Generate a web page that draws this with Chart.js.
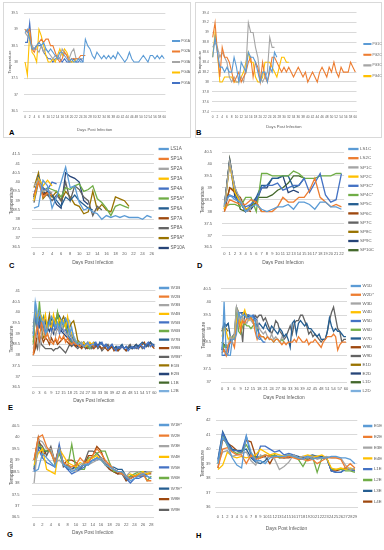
<!DOCTYPE html>
<html>
<head>
<meta charset="utf-8">
<script src="https://cdn.jsdelivr.net/npm/chart.js@4.4.0/dist/chart.umd.min.js"></script>
<style>
body{margin:0;background:#fff;width:384px;height:550px;position:relative;overflow:hidden}
.frame{position:absolute;border:1px solid #d9d9d9;box-sizing:border-box}
.lab{position:absolute;font:bold 7.5px "Liberation Sans",Arial,sans-serif;color:#000;line-height:9px}
</style>
</head>
<body>
<div class="frame" style="left:3px;top:2px;width:188px;height:136px"></div>
<div class="frame" style="left:195px;top:2px;width:187px;height:136px"></div>
<div class="lab" style="left:9px;top:128px">A</div>
<div class="lab" style="left:196px;top:128px">B</div>
<div class="lab" style="left:9px;top:261px">C</div>
<div class="lab" style="left:197px;top:261px">D</div>
<div class="lab" style="left:8px;top:403px">E</div>
<div class="lab" style="left:196px;top:404px">F</div>
<div class="lab" style="left:7px;top:530px">G</div>
<div class="lab" style="left:196px;top:531px">H</div>
<script>
// ---- categories (days post infection) ----
const days60 = [0,1,2,3,4,5,6,7,8,9,10,11,12,13,14,15,16,17,18,19,20,21,22,23,24,25,26,27,28,29,30,31,32,33,34,35,36,37,38,39,40,41,42,43,44,45,46,47,48,49,50,51,52,53,54,55,56,57,58,59,60];
const days26 = [0,1,2,3,4,5,6,7,8,9,10,11,12,13,14,15,16,17,18,19,20,21,22,23,24,25,26];
const days22 = [0,1,2,3,4,5,6,7,8,9,10,11,12,13,14,15,16,17,18,19,20,21,22];
const days28 = [0,1,2,3,4,5,6,7,8,9,10,11,12,13,14,15,16,17,18,19,20,21,22,23,24,25,26,27,28];
const days29 = [0,1,2,3,4,5,6,7,8,9,10,11,12,13,14,15,16,17,18,19,20,21,22,23,24,25,26,27,28,29];

// ---- A ----
const namesA = ["PG1A","PG2A","PG3A","PG4A","PG5A"];
const PG1A = [38.9,39.0,38.7,38.4,38.4,38.5,38.6,38.5,38.6,38.4,38.3,38.4,38.3,38.2,38.1,38.3,38.3,38.2,38.1,38.0,38.1,38.0,38.0,38.1,38.0,38.0,38.7,38.5,38.4,38.2,38.1,38.3,38.2,38.1,38.2,38.1,38.2,38.1,38.2,38.1,38.3,38.2,38.1,38.0,38.1,38.3,38.1,38.0,38.0,38.0,38.1,38.2,38.1,38.0,38.2,38.2,38.1,38.2,38.1,38.2,38.1];
const PG2A = [39.0,38.9,39.0,38.4,38.3,38.5,38.6,38.7,38.6,38.7,38.7,38.5,38.5,38.3,38.1,38.0,38.1,38.3,38.2,38.0,38.1,38.1,38.1,38.1,38.2,38.2,38.2];
const PG3A = [38.9,38.8,38.7,38.5,38.4,38.4,38.3,38.5,38.3,38.4,38.3,38.2,38.1,38.2,38.2,38.1,38.4,38.3,38.2,38.1,38.3,38.4,38.1,38.1,38.1,38.1];
const PG4A = [38.0,37.6,38.9,38.3,38.2,38.0,39.0,38.8,38.5,38.2,38.0,38.0,38.1,38.0,38.2,38.4,38.2,38.4,38.3,38.1,38.0,38.0,38.1];
const PG5A = [38.6,38.6,39.2,38.4,38.4,38.5,38.5,38.5,38.3,38.2,38.1,38.1,38.0,38.1,38.1,38.1,38.0,38.1,38.0,38.0,38.0,38.1,38.0,38.0,38.1,38.0];

// ---- B ----
const namesB = ["PG1C","PG2C","PG3C","PG4C"];
const PG1C = [38.5,38.9,38.6,38.3,38.3,38.2,38.3,38.2,38.2,38.5,38.3,38.0,38.4,38.3,38.2,38.6,38.5,38.5,38.4,38.2,38.0,38.2,38.2,38.0,38.3,38.2,38.6,38.5];
const PG2C = [38.9,39.2,38.6,38.1,38.7,38.5,38.5,38.4,38.2,38.0,38.1,38.2,38.0,38.1,38.2,38.4,38.5,38.1,38.4,38.3,38.0,38.4,38.1,38.0,38.2,38.5,38.5,38.4,38.3,38.2,38.3,38.2,38.3,38.2,38.1,38.2,38.3,38.2,38.1,38.2,38.0,38.1,38.2,38.1,38.0,38.2,38.3,38.2,38.1,38.3,38.2,38.4,38.2,38.1,38.3,38.2,38.2,38.2,38.4,38.3,38.2];
const PG3C = [38.7,38.8,38.7,38.5,38.6,38.5,38.4,38.1,38.0,38.1,38.0,38.0,38.1,38.0,38.3,39.2,39.0,39.0,38.7,38.5,38.1,38.0,38.1,38.2,38.9,38.7,38.7];
const PG4C = [38.5,39.0,38.6,38.0,38.0,38.1,38.1,38.1,38.1,38.0,38.0,38.0,38.1,38.2,38.4,38.6,38.4,38.4,38.1,38.0,38.0,38.1,38.4,38.4,38.4,38.3,38.2,38.1,38.3,38.5,38.5,38.4,38.4];

// ---- C ----
const namesC = ["LS1A","SP1A","SP2A","SP3A","SP4A","SP5A*","SP6A","SP7A","SP8A","SP9A*","SP10A"];
const LS1A = [38.6,38.7,40.1,39.8,38.6,39.2,40.0,40.8,39.7,39.8,38.9,38.5,38.6,38.4,38.3,38.0,38.2,38.1,38.2,38.1,38.2,38.1,38.1,38.1,38.0,38.2,38.1];
const SP1A = [39.3,40.0,39.2,39.4,39.3];
const SP2A = [39.8,40.1,39.5,39.6,39.4];
const SP3A = [39.0,40.2,39.8,40.1,39.8];
const SP4A = [39.3,40.2,39.6,39.6,40.0,39.9];
const SP5A = [39.3,40.0,39.5,39.7,39.6,39.5,39.2,39.7,39.6,39.8,39.9,39.5,39.6,39.8,39.1,38.9,38.6,38.2,38.7,38.8,38.7,38.6];
const SP6A = [39.1,40.3,39.7,39.5,39.3,39.0,38.7,39.2,39.0,39.3,39.0,38.8,38.6,38.5];
const SP7A = [39.2,40.2,39.3,39.5,39.4];
const SP8A = [38.9,40.0,39.4,39.3,39.0,39.3,39.0,40.0,39.0,39.8,39.6,39.2,39.0,38.2,38.7,38.5];
const SP9A = [39.7,40.5,39.1,39.4,39.2,39.5,39.0,39.5,39.2,38.8,38.7,38.3,38.4,39.5,38.5,38.8,38.5,38.4,39.2,39.1,39.0,38.7];
const SP10A = [39.2,40.2,39.5,39.3,39.3,38.8,38.6,40.5,40.3,40.2,40.0,39.0,38.8];

// ---- D ----
const namesD = ["LS1C","LS2C","SP1C","SP2C","SP3C*","SP4C*","SP5C","SP6C","SP7C","SP8C","SP9C","SP10C"];
const LS1C = [38.3,38.7,38.5,38.4,38.0,38.2,38.3,38.1,38.0,38.1,38.2,38.2,38.3,38.1,38.4,38.4,38.3,38.1,38.4,38.4,38.2,38.2,38.1];
const LS2C = [38.0,38.5,38.4,38.3,38.3,38.5,38.4,38.0,38.0,38.0,38.2,38.6,38.4,38.4,38.6,38.6,38.9,39.4,38.6,38.4,38.2,38.3,38.2];
const SP1C = [38.2,40.1,39.0,38.5,38.0,38.1];
const SP2C = [38.1,40.0,38.8,38.4,38.1,38.2];
const SP3C = [38.5,38.7,38.6,38.4,38.2,38.3,38.5,39.0,39.1,39.1,39.2,38.9,39.0,39.1,39.1,39.4,38.8,39.2,39.6,38.7,38.4,38.5,39.6];
const SP4C = [38.2,38.3,38.3,38.2,38.6,38.6,38.0,39.6,39.6,39.5,39.5,39.5,39.5,39.7,39.6,39.4,39.4,39.4,39.5,39.5,39.5,39.6,39.6];
const SP5C = [38.3,40.1,39.0,38.4,38.0,38.3,38.6,39.1,39.1,39.4,39.4,39.5,39.5,39.0,39.1,39.4];
const SP6C = [38.0,39.0,38.8,38.6,38.1,38.0];
const SP7C = [38.2,40.2,38.9,38.4,38.0,38.1];
const SP8C = [38.1,39.0,38.9,38.5,38.1,38.2,38.4,38.0];
const SP9C = [38.1,40.1,38.6,38.4,38.0,38.1,38.4,39.0,39.0,39.4,39.4,39.5,38.8,38.9,38.8];
const SP10C = [38.2,40.2,38.8,38.1,38.0,38.2,38.6,38.6,38.6,38.7,38.9,39.0,39.2,39.5,39.5,39.4];

// ---- E ----
const namesE = ["W1B","W2B","W3B","W4B","W5B","W6B","W7B","W8B","W9B*","E1B","E2B","L1B","L2B"];
const W1B = [38.9,40.5,39.5,40.0,39.6,39.5,39.0,39.2,39.5,39.8,39.6,39.3,39.5,39.2,39.6,39.4,39.7,39.5,39.0,39.3,38.8,38.6,38.5,38.6,38.5,38.4,38.5,38.6,38.4,38.5,38.5];
const W2B = [38.0,38.9,39.4,38.8,39.5,39.2,38.8,39.0,38.7,38.6,38.5,38.8,38.6,38.9,38.7,38.9,38.6,38.8,38.6,38.5,38.6,38.5,38.5,38.4,38.5,38.4,38.5,38.6,38.4,38.5,38.4];
const W3B = [38.3,38.8,38.9,38.3,38.9,39.6,39.3,39.0,38.7,39.0,39.2,38.9,39.3,39.1,39.4,39.2,39.0,38.9,39.2,38.8,38.6,38.5,38.5,38.4,38.6,38.4,38.5,38.5,38.4,38.5,38.5];
const W4B = [39.0,40.1,39.8,40.0,39.8,39.5,39.9,39.2,39.4,39.3,39.9,39.5,39.4,39.7,39.5,39.6,39.3,39.8,39.2,39.0,38.8,38.6,38.5,38.6,38.5,38.6,38.4,38.5,38.6,38.5,38.6];
const W5B = [39.2,39.8,39.0,39.6,39.3,39.7,39.1,39.4,39.6,39.1,39.5,39.2,39.4,39.0,39.3,39.1,39.2,38.9,38.8,38.7,38.5,38.6,38.5,38.4,38.5,38.6,38.4,38.5,38.4,38.5,38.4,38.6,38.4,38.5,38.6,38.4,38.5,38.3,38.4,38.5,38.3,38.2,38.4,38.3,38.4,38.3,38.4,38.2,38.3,38.4,38.3,38.4,38.3,38.5,38.4,38.3,38.5,38.6,38.4,38.5,38.4];
const W6B = [38.5,39.9,39.2,40.5,39.5,39.8,39.0,39.5,39.6,39.3,39.4,39.3,40.0,39.4,39.6,39.3,39.5,39.0,38.8,38.6,38.6,38.5,38.6,38.4,38.5,38.4,38.5,38.4,38.3,38.5,38.4];
const W7B = [39.0,39.8,39.5,39.3,39.7,39.4,39.6,39.2,39.5,39.4,39.6,39.5,39.3,39.8,39.6,39.5,39.7,39.4,39.0,38.8,38.7,38.6,38.5,38.4,38.5,38.6,38.5,38.4,38.3,38.5,38.6,38.5,38.4,38.6,38.5,38.4,38.5,38.3,38.4,38.5,38.3,38.4,38.3,38.4,38.5,38.3,38.4,38.3,38.4,38.3,38.4,38.5,38.4,38.5,38.6,38.5,38.4,38.5,38.6,38.5,38.5];
const W8B = [38.0,38.3,39.0,38.6,38.9,38.6,38.8,38.7,38.5,38.8,38.6,38.7,38.5,38.6,38.7,38.8,38.7,38.6,38.5,38.6,38.5,38.4,38.5,38.4,38.3,38.5,38.4,38.3,38.4,38.5,38.3,38.4,38.5,38.4,38.3,38.4,38.3,38.2,38.3,38.4,38.2,38.3,38.2,38.3,38.4,38.3,38.2,38.3,38.4,38.3,38.4,38.5,38.3,38.4,38.5,38.6,38.4,38.5,38.6,38.4,38.3];
const W9B = [38.1,38.6,38.3,38.9,38.5,38.4,38.3,38.3,38.3,38.3,38.2,38.3,38.3,38.4,38.3,38.2,38.1,38.3,38.5,38.4,38.5,38.4,38.3,38.4,38.5,38.4,38.3,38.4,38.5,38.3,38.4,38.5,38.3,38.4,38.2,38.3,38.4,38.5,38.3,38.4,38.3,38.4,38.2,38.3,38.4,38.3,38.2,38.4,38.5,38.3,38.4,38.3,38.4,38.5,38.3,38.4,38.5,38.4,38.6,38.5,38.4];
const E1B = [38.6,39.9,39.6,39.9,39.3,38.8,38.9,39.4,39.9,39.3,39.6,39.5,40.0,39.7,39.6,39.8,39.5,39.0,39.3,39.5,39.6,39.2,38.7,38.6,38.5,38.4,38.5,38.5,38.4,38.5,38.5];
const E2B = [39.3,40.0,39.4,39.6,39.2,39.5,39.0,39.3,39.1,39.4,39.0,39.3,39.2,39.4,39.1,39.0,38.9,38.8,38.7,38.6,38.5,38.5,38.4,38.5,38.4,38.5,38.3,38.4,38.5,38.4,38.5];
const L1B = [38.8,39.8,39.6,39.8,39.5,39.3,39.6,39.2,39.5,39.7,39.4,39.6,39.8,39.5,39.6,39.4,39.6,39.3,39.1,38.9,38.7,38.6,38.5,38.5,38.4,38.6,38.4,38.5,38.4,38.5,38.4];
const L2B = [39.0,40.5,40.0,39.6,39.8,39.3,39.5,39.1,39.6,39.2,39.4,39.7,39.5,39.3,39.6,39.5,39.3,39.7,39.6,39.2,38.9,38.7,38.6,38.5,38.6,38.5,38.4,38.5,38.5,38.4,38.5];

// ---- F ----
const namesF = ["W1D","W2D*","W3D","W4D","W5D","W6D","W7D","W8D","W9D","E1D","E2D","L1D","L2D"];
const W1D = [38.0,40.0,38.1,38.0,38.0,38.6,38.6,38.8,39.6,39.4,39.5,39.5,39.4,39.4,39.5,39.4,39.3,38.7,38.6,38.6,38.5];
const W2D = [38.1,38.2,38.0,38.4,38.5,38.5,38.3,39.0,39.3,38.9,39.3,39.2,39.4,39.4,39.4,39.3,38.9,38.6,38.8,38.7,38.7,38.6,38.7,38.6,38.6,38.5,38.6,38.6,38.5,38.4,38.5,38.4,38.5,38.5,38.5,38.6,38.5,38.7,38.6,38.5,38.5,38.6,38.4,38.5,38.5,38.6,38.5,38.4,38.3,38.5,38.6,38.7,38.7,38.7,38.8,38.7,38.2,38.4,38.5,38.5,38.5];
const W3D = [38.1,38.2,38.0,38.4,38.7,38.6,38.8,39.8,39.5,39.3,39.4,39.3,39.2,39.4,39.3,39.2,39.1,39.3,39.0,38.9,38.8,38.9,38.7,38.6,38.8,38.6,38.7,38.6,38.5,38.7,38.6];
const W4D = [38.7,39.0,38.9,38.6,38.7,38.6,38.7,39.3,39.6,39.0,39.5,39.7,39.4,39.3,39.4,39.2,39.1,39.0];
const W5D = [38.0,38.0,38.0,38.1,38.6,38.6,38.7,39.1,39.6,39.6,39.5,39.6,39.5,39.5,39.4,39.5,39.4,39.3,38.7,38.6,38.5,38.5];
const W6D = [38.5,38.3,38.4,38.3,38.6,38.7,38.6,39.8,38.9,38.8,39.1,39.2,39.1,39.1,39.0,39.1,39.2,39.0,38.8,38.7,38.7,38.6,38.7,38.6,38.6,38.5,38.6,38.6,38.5,38.6,38.5];
const W7D = [38.2,39.2,39.1,39.2,38.7,38.6,38.7,39.3,39.6,39.6,39.6,39.5,39.4,39.5,39.4,39.5,39.3,39.1,39.2,39.1,39.0,39.2,39.0,38.9,39.1,39.0,38.9,38.8,39.0,38.9,38.7,38.8,38.6,38.3,39.2,39.3,38.8,39.2,39.3,39.2,39.1,39.2,39.0,39.0,38.9,38.8,38.7,38.8,38.6,38.6,38.6,38.9,39.4,39.1,38.9,39.0,38.9,38.9,38.8,38.7,38.7];
const W8D = [38.3,38.2,38.1,38.0];
const W9D = [38.2,38.4,38.3,38.3,38.5,38.7,38.8,39.8,39.6,39.2,38.5,39.6,39.5,39.5,39.4,39.3,39.5,39.4,39.5,39.5,39.3,39.4,39.2,39.0,38.8,39.0,39.3,39.2,38.9,38.8,38.6,38.7,38.9,39.1,38.8,39.2,39.3,39.3,39.5,39.5,39.3,39.1,38.8,38.9,38.7,38.8,38.7,38.6,38.5,38.6,38.6,38.9,39.3,39.6,39.8,39.4,39.0,38.9,38.5,38.6,38.6];
const E1D = [38.9,39.1,39.0,38.9];
const E2D = [38.9,39.2,39.1,39.2];
const L1D = [38.5,38.4,38.3,38.3];
const L2D = [38.0,38.0,38.1,38.0];

// ---- G ----
const namesG = ["W1E*","W2E","W3E","W4E","W5E","W6E","W7E*","W8E","W9E"];
const W1E = [38.5,38.6,39.3,39.1,38.9,38.7,39.5,38.8,38.7,38.5,38.6,38.7,38.8,38.8,39.0,39.1,39.0,38.8,38.7,38.6,38.5,38.5,38.3,38.1,38.2,38.3,38.4,38.3,38.2];
const W2E = [39.0,40.0,40.1,39.6,39.3,38.9,39.5,38.9,38.8,38.7,38.8,39.1,38.9,38.9,39.2,39.5,39.3,39.0,38.8,38.6,38.5,38.4,38.3,38.2,38.3,38.3,38.4,38.1,38.1];
const W3E = [38.0,39.9,39.8,39.5,39.5,38.9,39.0,38.8,38.7,38.6,38.5,38.8,38.9,38.8,38.9,39.0,39.1,38.9,38.8,38.6,38.5,38.4,38.3,38.5,38.5,38.5,38.4,38.5,38.5];
const W4E = [38.8,39.3,39.5,38.6,38.5,38.4,39.5,39.2,38.9,38.8,38.7,38.9,38.8,39.0,39.1,39.2,39.0,38.8,38.7,38.6,38.5,38.5,38.3,38.4,38.3,38.4,38.5,38.4,38.5];
const W5E = [38.5,39.5,39.1,38.9,38.8,38.7,39.7,38.8,38.6,38.4,38.5,38.6,38.7,38.9,39.0,39.0,39.1,38.9,38.7,38.6,38.5,38.4,38.2,38.0,38.2,38.2,38.3,38.3,38.2];
const W6E = [38.7,39.7,39.5,39.4,39.4,38.8,39.3,38.8,38.7,39.7,38.6,38.6,38.6,39.1,39.1,39.3,39.4,39.4,38.9,38.5,38.5,38.4,38.2,38.3,38.4,38.5,38.5,38.1,38.3];
const W7E = [38.6,39.6,39.4,39.4,39.4,38.9,39.3,38.9,38.6,38.6,38.8,38.7,38.8,38.8,39.0,39.1,39.1,38.8,38.7,38.7,38.6,38.6,38.3,38.2,38.3,38.4,38.5,38.5,38.5];
const W8E = [39.0,40.0,39.2,39.4,39.5,38.9,39.6,38.8,39.0,39.0,38.9,38.7,38.8,39.2,39.2,39.6,39.4,38.9,38.6,38.5,38.4,38.4,38.1,38.2,38.3,38.3,38.3,38.4,38.4];
const W9E = [38.6,39.8,39.6,39.2,39.6,38.9,39.5,38.7,38.8,38.6,38.7,38.6,38.9,39.4,39.4,39.3,39.1,38.8,38.6,38.5,38.4,38.5,38.1,38.3,38.3,38.4,38.4,38.5,38.5];

// ---- H ----
const namesH = ["E1E","E2E","E3E","E4E","L1E","L2E","L3E","L4E"];
const E1E = [39.0,40.8,40.3,39.4,38.9,38.7,40.9,39.8,39.2,39.2,39.0,39.4,39.5,39.5,39.5,39.6,39.5,39.4,39.3,39.5,39.3,39.4,39.4,39.4,39.5,39.5,39.4,39.4,39.3,39.0];
const E2E = [38.7,40.0,40.1,39.8,39.6,39.6,39.0,39.6,39.3,39.4,39.6,39.5,39.4,39.5,39.4,39.5,39.4,39.3,39.3,39.2,39.3,39.0,39.2,39.4,39.4,39.4,39.3,38.7,39.0,38.7];
const E3E = [39.0,39.8,39.9,39.5,39.6,39.7,39.8,39.2,38.9,39.6,39.4,39.5,39.3,38.6,38.8,39.1,39.6,39.4,39.5,39.4,39.5,39.3,39.4,39.5,39.4,39.4,39.4,38.9,38.6,38.7];
const E4E = [38.6,38.9,39.8,39.5,39.4,39.5,39.4,39.5,39.6,40.0,39.8,39.6,39.7,39.6,39.5,39.6,39.5,39.4,39.5,39.6,39.5,39.5,39.6,39.4,38.7,38.6,38.7,38.6,38.7,38.6];
const L1E = [39.2,41.1,40.4,39.9,39.9,39.8,40.9,39.5,39.2,40.2,40.2,40.0,39.8,39.9,39.6,39.7,39.6,39.4,39.5,39.4,39.5,39.5,39.4,39.4,38.5,38.4,38.4,38.6,38.6,38.5];
const L2E = [39.0,41.0,40.2,39.9,39.7,39.8,40.3,39.7,39.4,39.5,39.6,39.5,39.6,39.4,39.5,39.6,39.5,39.3,38.8,39.4,39.5,38.4,39.4,39.4,38.6,38.6,38.6,38.5,38.5,38.4];
const L3E = [39.3,41.2,40.5,40.0,39.9,39.9,40.0,39.4,39.1,39.0,39.2,39.6,39.5,39.5,39.4,39.5,39.6,39.5,39.4,39.5,39.6,39.5,39.5,39.4,38.5,38.4,38.4,38.7,38.6,38.6];
const L4E = [38.7,40.7,40.4,40.2,39.9,39.7,40.6,40.5,39.5,39.4,39.5,39.0,39.6,39.4,39.4,39.4,39.5,39.4,39.4,39.3,39.4,39.4,39.4,39.4,38.5,38.5,38.6,38.7,38.6,38.5];

// Office colour order used by the source workbook
const pal = ["#5B9BD5","#ED7D31","#A5A5A5","#FFC000","#4472C4","#70AD47","#255E91","#9E480E","#636363","#997300","#264478","#43682B","#7CAFDD"];
const fam = '"Liberation Sans", Arial, sans-serif';
const txt = "#595959";

function panel(c) {
  const h = Math.ceil(c.xTitleY + c.ft * 0.6 - c.y);
  const cv = document.createElement("canvas");
  cv.width = c.w; cv.height = h;
  cv.style.cssText = "position:absolute;left:" + c.x + "px;top:" + c.y + "px";
  document.body.appendChild(cv);

  const pad = c.sp - c.fl;
  const legTitle = c.first - c.y - pad - c.fl / 2;

  new Chart(cv, {
    type: "line",
    data: {
      labels: c.labels,
      datasets: c.names.map((n, i) => ({
        label: n, data: c.series[i],
        borderColor: pal[i], backgroundColor: pal[i],
        borderWidth: c.lw, pointRadius: 0, pointHoverRadius: 0,
        tension: 0, fill: false
      }))
    },
    options: {
      responsive: false, animation: false, events: [],
      layout: { padding: 0 },
      plugins: {
        tooltip: { enabled: false },
        legend: {
          position: "right", align: "start", maxWidth: c.x + c.w - c.R,
          title: { display: legTitle > 0.3, text: " ", color: "rgba(0,0,0,0)", padding: 0,
                   font: { size: Math.max(legTitle, 0.4) / 1.2, lineHeight: 1.2 } },
          labels: { boxWidth: c.bw, boxHeight: 1, padding: pad, color: txt,
                    font: { family: fam, size: c.fl } }
        }
      },
      scales: {
        x: {
          type: "category", offset: true,
          grid: { display: false, drawTicks: false },
          border: { display: true, color: "#D9D9D9", width: 1 },
          ticks: {
            autoSkip: false, maxRotation: 0, minRotation: 0, padding: c.xTickPad,
            color: txt, font: { family: fam, size: c.fs },
            callback: (v, i) => (i % c.every === 0 ? c.labels[i] : "")
          },
          title: { display: true, text: "Days Post Infection", color: txt,
                   font: { family: fam, size: c.ft },
                   padding: { top: 0, bottom: c.y + h - c.xTitleY - c.ft * 0.6 } },
          afterFit: s => { s.height = c.y + h - c.B; }
        },
        x2: {
          type: "category", position: "top", display: true,
          grid: { display: false, drawTicks: false }, border: { display: false },
          ticks: { display: false },
          afterFit: s => { s.height = c.T - c.y; }
        },
        y: {
          min: c.yMin, max: c.yMax,
          grid: { color: "#D9D9D9", drawTicks: false },
          border: { display: false },
          ticks: {
            stepSize: c.step, padding: c.L - c.yLab, color: txt, autoSkip: false,
            font: { family: fam, size: c.fs },
            callback: v => String(Math.round(v * 10) / 10)
          },
          title: { display: true, text: "Temperature", color: txt,
                   font: { family: fam, size: c.ft },
                   padding: { top: c.yTitleX - c.x - c.ft * 0.6, bottom: 0 } },
          afterFit: s => { s.width = c.L - c.x; }
        }
      }
    }
  });
}

panel({ labels: days60, names: namesA, series: [PG1A, PG2A, PG3A, PG4A, PG5A],
  x: 4, y: 4, w: 196, L: 23.9, T: 13, R: 163.8, B: 111, xTitleY: 130, yTitleX: 10, yLab: 17.7,
  xTickPad: 4.5, first: 41, sp: 10.5, fs: 3.2, ft: 4.1, fl: 3.3, bw: 7, lw: 1.1,
  yMin: 36.5, yMax: 39.5, step: 0.5, every: 2 });

panel({ labels: days60, names: namesB, series: [PG1C, PG2C, PG3C, PG4C],
  x: 196, y: 4, w: 188, L: 211.5, T: 12.7, R: 356.5, B: 111.7, xTitleY: 127.3, yTitleX: 199.5, yLab: 208.7,
  xTickPad: 3.8, first: 44, sp: 10.7, fs: 3.2, ft: 4.1, fl: 3.3, bw: 7, lw: 1.1,
  yMin: 37.4, yMax: 39.4, step: 0.2, every: 2 });

panel({ labels: days26, names: namesC, series: [LS1A, SP1A, SP2A, SP3A, SP4A, SP5A, SP6A, SP7A, SP8A, SP9A, SP10A],
  x: 0, y: 140, w: 192, L: 31.7, T: 146.7, R: 153.9, B: 247.3, xTitleY: 262.3, yTitleX: 12, yLab: 20,
  xTickPad: 4, first: 149, sp: 9.9, fs: 4, ft: 4.8, fl: 4.6, bw: 9, lw: 1.3,
  yMin: 36.5, yMax: 41.5, step: 0.5, every: 2 });

panel({ labels: days22, names: namesD, series: [LS1C, LS2C, SP1C, SP2C, SP3C, SP4C, SP5C, SP6C, SP7C, SP8C, SP9C, SP10C],
  x: 192, y: 140, w: 192, L: 221.7, T: 146.7, R: 341.9, B: 247.3, xTitleY: 262.3, yTitleX: 203, yLab: 212,
  xTickPad: 4, first: 149, sp: 9.2, fs: 4, ft: 4.8, fl: 4.4, bw: 9, lw: 1.3,
  yMin: 36.5, yMax: 40.5, step: 0.5, every: 1 });

panel({ labels: days60, names: namesE, series: [W1B, W2B, W3B, W4B, W5B, W6B, W7B, W8B, W9B, E1B, E2B, L1B, L2B],
  x: 0, y: 276, w: 192, L: 32.3, T: 281, R: 151.6, B: 387.3, xTitleY: 400.3, yTitleX: 12, yLab: 20,
  xTickPad: 3.4, first: 288, sp: 8.6, fs: 4, ft: 4.8, fl: 4.4, bw: 9, lw: 1.3,
  yMin: 36.5, yMax: 41, step: 0.5, every: 3 });

panel({ labels: days60, names: namesF, series: [W1D, W2D, W3D, W4D, W5D, W6D, W7D, W8D, W9D, E1D, E2D, L1D, L2D],
  x: 192, y: 276, w: 192, L: 221, T: 281, R: 339.6, B: 382.3, xTitleY: 397.3, yTitleX: 204, yLab: 211,
  xTickPad: 4, first: 286, sp: 8.75, fs: 4, ft: 4.8, fl: 4.4, bw: 9, lw: 1.3,
  yMin: 37, yMax: 40.5, step: 0.5, every: 3 });

panel({ labels: days28, names: namesG, series: [W1E, W2E, W3E, W4E, W5E, W6E, W7E, W8E, W9E],
  x: 0, y: 411, w: 192, L: 32, T: 416.7, R: 148.7, B: 517.3, xTitleY: 532.7, yTitleX: 12, yLab: 19.5,
  xTickPad: 4.7, first: 425, sp: 10.6, fs: 4, ft: 4.8, fl: 4.4, bw: 9, lw: 1.3,
  yMin: 36.5, yMax: 40.5, step: 0.5, every: 2 });

panel({ labels: days29, names: namesH, series: [E1E, E2E, E3E, E4E, L1E, L2E, L3E, L4E],
  x: 192, y: 411, w: 192, L: 215.6, T: 420, R: 357.3, B: 507.3, xTitleY: 528.3, yTitleX: 203, yLab: 210.5,
  xTickPad: 7, first: 426, sp: 10.8, fs: 4, ft: 4.8, fl: 4.4, bw: 8, lw: 1.3,
  yMin: 36, yMax: 42, step: 1, every: 1 });
</script>
</body>
</html>
